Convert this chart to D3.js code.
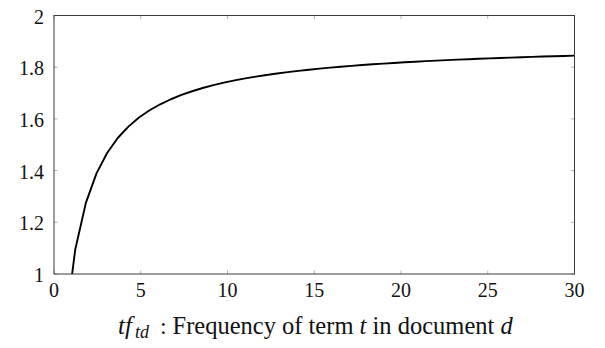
<!DOCTYPE html>
<html><head><meta charset="utf-8">
<script src="https://cdn.jsdelivr.net/npm/d3@7/dist/d3.min.js"></script>
<style>body{margin:0;background:#fff}svg{display:block}</style>
</head><body>
<svg id="c" width="605" height="348"></svg>
<script>
const xTicks = [0, 5, 10, 15, 20, 25, 30];
const yTicks = [1, 1.2, 1.4, 1.6, 1.8, 2];
const yTickLabels = ["1", "1.2", "1.4", "1.6", "1.8", "2"];
const tfValues = [0, 0.6122, 1.2245, 1.8367, 2.4490, 3.0612, 3.6735, 4.2857, 4.8980, 5.5102,
  6.1224, 6.7347, 7.3469, 7.9592, 8.5714, 9.1837, 9.7959, 10.4082, 11.0204, 11.6327,
  12.2449, 12.8571, 13.4694, 14.0816, 14.6939, 15.3061, 15.9184, 16.5306, 17.1429, 17.7551,
  18.3673, 18.9796, 19.5918, 20.2041, 20.8163, 21.4286, 22.0408, 22.6531, 23.2653, 23.8776,
  24.4898, 25.1020, 25.7143, 26.3265, 26.9388, 27.5510, 28.1633, 28.7755, 29.3878, 30];
const scoreValues = [0, 0.7692, 1.0951, 1.2752, 1.3894, 1.4683, 1.5261, 1.5702, 1.6051, 1.6333,
  1.6565, 1.6760, 1.6927, 1.7070, 1.7195, 1.7304, 1.7401, 1.7488, 1.7566, 1.7636,
  1.7699, 1.7757, 1.7810, 1.7858, 1.7903, 1.7945, 1.7983, 1.8019, 1.8052, 1.8083,
  1.8112, 1.8140, 1.8165, 1.8190, 1.8213, 1.8234, 1.8255, 1.8274, 1.8292, 1.8310,
  1.8326, 1.8342, 1.8358, 1.8372, 1.8386, 1.8399, 1.8412, 1.8424, 1.8435, 1.8447];

const L = 54, R = 574.5, T = 15.5, B = 274;
const x = d3.scaleLinear().domain([0, 30]).range([L, R]);
const y = d3.scaleLinear().domain([1, 2]).range([B, T]);
const svg = d3.select("#c");
const font = "Liberation Serif, Times New Roman, serif";

svg.append("clipPath").attr("id", "clip").append("rect")
  .attr("x", L).attr("y", T).attr("width", R - L).attr("height", B - T);

const tl = 3.5;
const tickCol = "#a0a0a0";
const g = svg.append("g");
xTicks.forEach(t => {
  g.append("line").attr("x1", x(t)).attr("x2", x(t)).attr("y1", B).attr("y2", B - tl)
    .attr("stroke", tickCol).attr("stroke-width", 0.8);
  g.append("line").attr("x1", x(t)).attr("x2", x(t)).attr("y1", T).attr("y2", T + tl)
    .attr("stroke", tickCol).attr("stroke-width", 0.8);
});
yTicks.forEach(t => {
  g.append("line").attr("y1", y(t)).attr("y2", y(t)).attr("x1", L).attr("x2", L + tl)
    .attr("stroke", tickCol).attr("stroke-width", 0.8);
  g.append("line").attr("y1", y(t)).attr("y2", y(t)).attr("x1", R).attr("x2", R - tl)
    .attr("stroke", tickCol).attr("stroke-width", 0.8);
});

const data = tfValues.map((v, i) => [v, scoreValues[i]]);
svg.append("path").datum(data)
  .attr("clip-path", "url(#clip)")
  .attr("d", d3.line().x(d => x(d[0])).y(d => y(d[1])))
  .attr("fill", "none").attr("stroke", "#000").attr("stroke-width", 1.9)
  .attr("stroke-linejoin", "round");

svg.append("rect").attr("x", L).attr("y", T).attr("width", R - L).attr("height", B - T)
  .attr("fill", "none").attr("stroke", "#3a3a3a").attr("stroke-width", 1);

xTicks.forEach(t => {
  svg.append("text").attr("x", x(t)).attr("y", B + 22.7).attr("text-anchor", "middle")
    .style("font-family", font).style("font-size", "20px").attr("fill", "#111").text(String(t));
});
yTicks.forEach((t, i) => {
  svg.append("text").attr("x", L - 10).attr("y", y(t) + 8).attr("text-anchor", "end")
    .style("font-family", font).style("font-size", "20px").attr("fill", "#111").text(yTickLabels[i]);
});

// x label
const by = 334;
svg.append("text").attr("x", 118).attr("y", by).style("font-family", font)
  .style("font-size", "25px").style("font-style", "italic").attr("fill", "#111").text("tf");
svg.append("text").attr("x", 135).attr("y", by + 4).style("font-family", font)
  .style("font-size", "18px").style("font-style", "italic").attr("fill", "#111").text("td");
svg.append("text").attr("x", 160).attr("y", by).style("font-family", font)
  .style("font-size", "24px").attr("fill", "#111").text(":");
const lab = svg.append("text").attr("x", 172.5).attr("y", by).style("font-family", font)
  .style("font-size", "24.5px").attr("fill", "#111");
lab.append("tspan").text("Frequency of term ");
lab.append("tspan").style("font-style", "italic").text("t");
lab.append("tspan").text(" in document ");
lab.append("tspan").style("font-style", "italic").text("d");
</script>
</body></html>
